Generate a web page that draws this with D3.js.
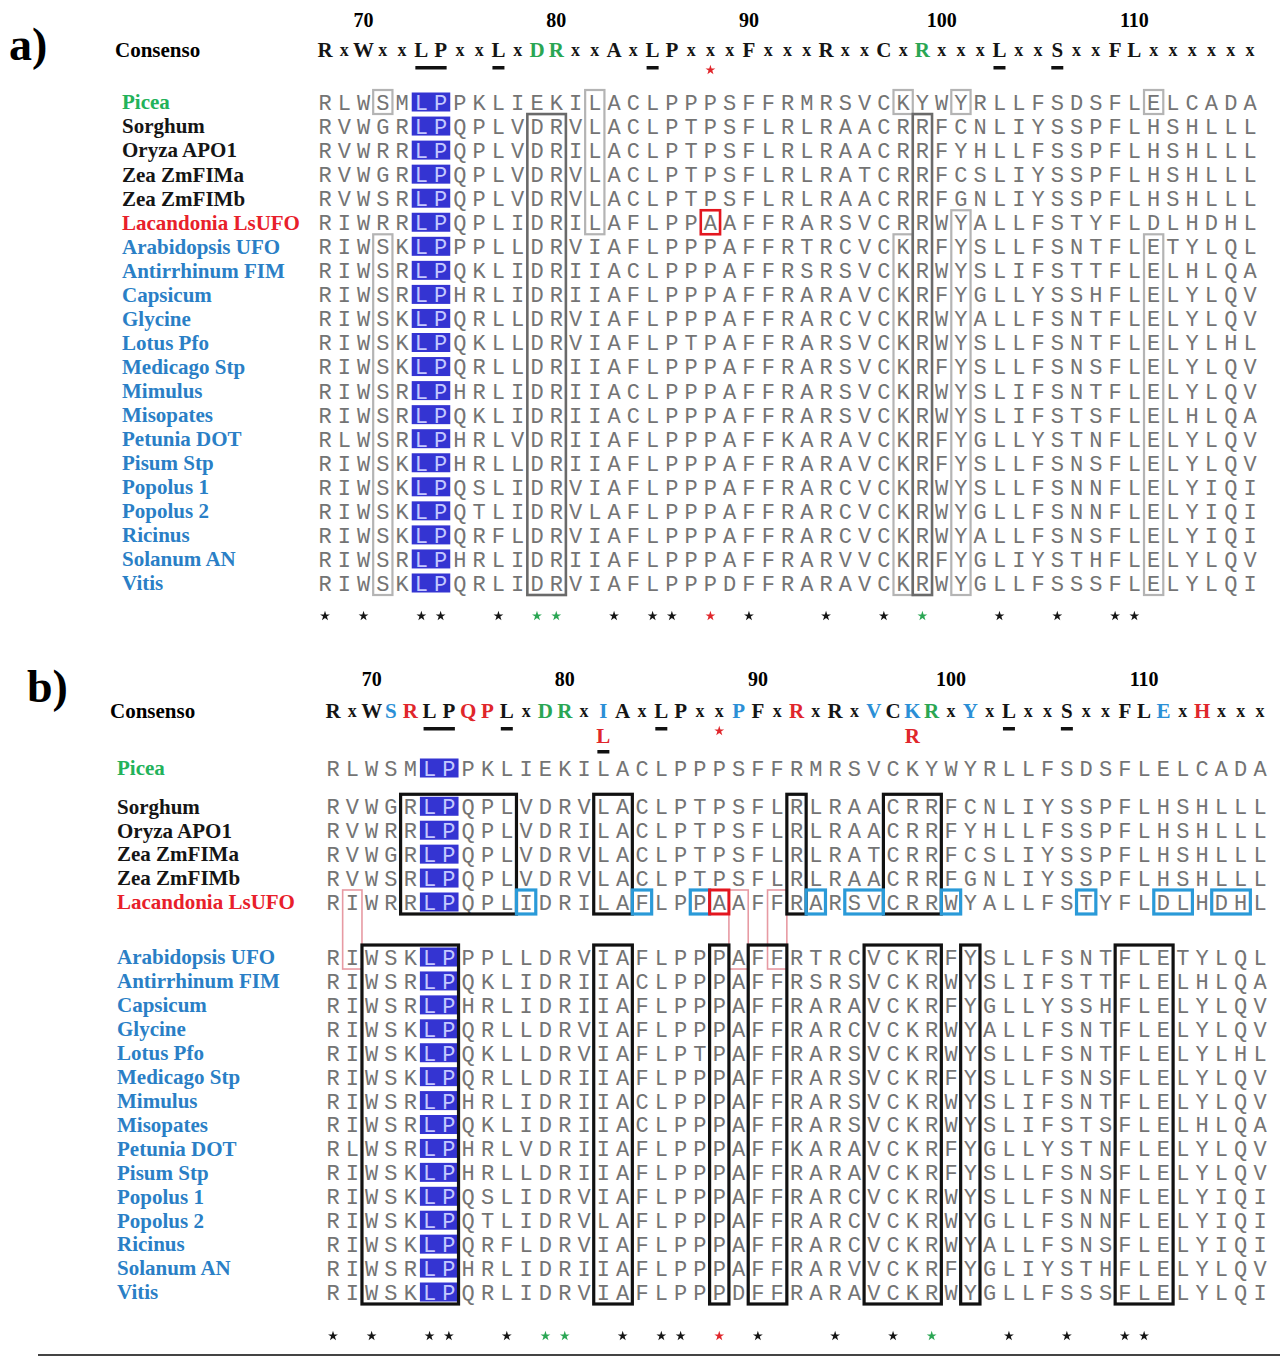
<!DOCTYPE html>
<html>
<head>
<meta charset="utf-8">
<script src="https://cdn.jsdelivr.net/npm/d3@7"></script>
<style>
  body { margin: 0; background: #fff; }
  text { font-family: "Liberation Serif", "DejaVu Serif", serif; }
  .seq { font-family: "Liberation Mono", "DejaVu Sans Mono", monospace; }
</style>
</head>
<body>
<div id="chart-area"></div>
<script>
// residue numbering: first column of the alignment is position 68
let firstPosition = 68;
let rulerTicks = [70, 80, 90, 100, 110];

let speciesNames = ["Picea", "Sorghum", "Oryza APO1", "Zea ZmFIMa", "Zea ZmFIMb", "Lacandonia LsUFO",
    "Arabidopsis UFO", "Antirrhinum FIM", "Capsicum", "Glycine", "Lotus Pfo", "Medicago Stp",
    "Mimulus", "Misopates", "Petunia DOT", "Pisum Stp", "Popolus 1", "Popolus 2", "Ricinus",
    "Solanum AN", "Vitis"];
let speciesKind = ["gymno", "monocot", "monocot", "monocot", "monocot", "lacandonia",
    "eudicot", "eudicot", "eudicot", "eudicot", "eudicot", "eudicot", "eudicot", "eudicot",
    "eudicot", "eudicot", "eudicot", "eudicot", "eudicot", "eudicot", "eudicot"];
// group of each species in panel b (Picea / monocots+Lacandonia / eudicots)
let speciesGroupB = [0, 1, 1, 1, 1, 1, 2, 2, 2, 2, 2, 2, 2, 2, 2, 2, 2, 2, 2, 2, 2];

let sequences = [
    "RLWSMLPPKLIEKILACLPPPSFFRMRSVCKYWYRLLFSDSFLELCADA",
    "RVWGRLPQPLVDRVLACLPTPSFLRLRAACRRFCNLIYSSPFLHSHLLL",
    "RVWRRLPQPLVDRILACLPTPSFLRLRAACRRFYHLLFSSPFLHSHLLL",
    "RVWGRLPQPLVDRVLACLPTPSFLRLRATCRRFCSLIYSSPFLHSHLLL",
    "RVWSRLPQPLVDRVLACLPTPSFLRLRAACRRFGNLIYSSPFLHSHLLL",
    "RIWRRLPQPLIDRILAFLPPAAFFRARSVCRRWYALLFSTYFLDLHDHL",
    "RIWSKLPPPLLDRVIAFLPPPAFFRTRCVCKRFYSLLFSNTFLETYLQL",
    "RIWSRLPQKLIDRIIACLPPPAFFRSRSVCKRWYSLIFSTTFLELHLQA",
    "RIWSRLPHRLIDRIIAFLPPPAFFRARAVCKRFYGLLYSSHFLELYLQV",
    "RIWSKLPQRLLDRVIAFLPPPAFFRARCVCKRWYALLFSNTFLELYLQV",
    "RIWSKLPQKLLDRVIAFLPTPAFFRARSVCKRWYSLLFSNTFLELYLHL",
    "RIWSKLPQRLLDRIIAFLPPPAFFRARSVCKRFYSLLFSNSFLELYLQV",
    "RIWSRLPHRLIDRIIACLPPPAFFRARSVCKRWYSLIFSNTFLELYLQV",
    "RIWSRLPQKLIDRIIACLPPPAFFRARSVCKRWYSLIFSTSFLELHLQA",
    "RLWSRLPHRLVDRIIAFLPPPAFFKARAVCKRFYGLLYSTNFLELYLQV",
    "RIWSKLPHRLLDRIIAFLPPPAFFRARAVCKRFYSLLFSNSFLELYLQV",
    "RIWSKLPQSLIDRVIAFLPPPAFFRARCVCKRWYSLLFSNNFLELYIQI",
    "RIWSKLPQTLIDRVLAFLPPPAFFRARCVCKRWYGLLFSNNFLELYIQI",
    "RIWSKLPQRFLDRVIAFLPPPAFFRARCVCKRWYALLFSNSFLELYIQI",
    "RIWSRLPHRLIDRIIAFLPPPAFFRARVVCKRFYGLIYSTHFLELYLQV",
    "RIWSKLPQRLIDRVIAFLPPPDFFRARAVCKRWYGLLFSSSFLELYLQI"
];

// consensus lines; hue letters: k black, g green, r red, b blue
let consensusA = "RxWxxLPxxLxDRxxAxLPxxxFxxxRxxCxRxxxLxxSxxFLxxxxxx";
let consensusAHue = "kkkkkkkkkkkggkkkkkkkkkkkkkkkkkkgkkkkkkkkkkkkkkkkk";
let consensusB = "RxWSRLPQPLxDRxIAxLPxxPFxRxRxVCKRxYxLxxSxxFLExHxxx";
let consensusBHue = "kkkbrkkrrkkggkbkkkkkkbkkrkkkbkbgkbkkkkkkkkkbkrkkk";
let underlinedCols = [[5, 6], [9, 9], [17, 17], [35, 35], [38, 38]];
let redStarCol = 20;
// second-line substitutions in panel b consensus: [column, residue]
let substitutionsB = [[14, "L"], [30, "R"]];

// conservation marks under the alignment
let conservedCols = [0, 2, 5, 6, 9, 11, 12, 15, 17, 18, 20, 22, 26, 29, 31, 35, 38, 41, 42];
let conservedHue = "kkkkkggkkkrkkkgkkkk";
let highlightCols = [5, 6];

// boxes: [firstCol, lastCol, firstSpecies, lastSpecies]
let lightBoxesA = [[3, 3, 0, 0], [14, 14, 0, 5], [30, 30, 0, 0], [33, 33, 0, 0], [43, 43, 0, 0],
    [3, 3, 6, 20], [30, 30, 6, 20], [33, 33, 5, 20], [43, 43, 6, 20]];
let darkBoxesA = [[11, 12, 1, 20], [31, 31, 1, 20]];
let redBoxesA = [[20, 20, 5, 5]];

let blackBoxesB = [[4, 9, 1, 5], [14, 15, 1, 5], [24, 24, 1, 5], [29, 31, 1, 5],
    [2, 6, 6, 20], [14, 15, 6, 20], [20, 20, 6, 20], [22, 23, 6, 20], [28, 31, 6, 20],
    [33, 33, 6, 20], [41, 43, 6, 20]];
let blueBoxesB = [[10, 10, 5, 5], [16, 16, 5, 5], [19, 19, 5, 5], [25, 25, 5, 5], [27, 28, 5, 5],
    [32, 32, 5, 5], [39, 39, 5, 5], [43, 44, 5, 5], [46, 47, 5, 5]];
let redBoxesB = [[20, 20, 5, 5]];
let pinkBoxesB = [[1, 1, 5, 6], [21, 21, 5, 6], [23, 23, 5, 6]];

let nameColor = { gymno: "#22b25a", monocot: "#151515", lacandonia: "#e8202a", eudicot: "#2a7fc6" };
let hueColor = { k: "#151515", g: "#2aa653", r: "#e0262b", b: "#2b8fd6" };

let width = 1280;
let height = 1358;
let nCols = sequences[0].length;

let svg = d3.select("#chart-area")
    .append("svg")
    .attr("width", width)
    .attr("height", height);

let star = d3.symbol().type(d3.symbolStar).size(30);

function drawPanel(p) {
    let g = svg.append("g").attr("class", "panel-" + p.id);
    let cw = p.x(1) - p.x(0);
    let rh = 24;

    // panel letter + consensus label
    g.append("text")
        .attr("x", p.letterX).attr("y", p.letterY)
        .attr("font-size", 46).attr("font-weight", "bold")
        .text(p.id + ")");
    g.append("text")
        .attr("x", p.consLabelX).attr("y", p.consY)
        .attr("dy", "0.35em")
        .attr("font-size", 21).attr("font-weight", "bold")
        .text("Consenso");

    // ruler
    g.selectAll(".tick").data(rulerTicks).enter()
        .append("text")
        .attr("x", d => p.x(d - firstPosition))
        .attr("y", p.rulerY)
        .attr("dy", "0.35em")
        .attr("text-anchor", "middle")
        .attr("font-size", 20).attr("font-weight", "bold")
        .text(d => d);

    // consensus letters
    g.selectAll(".cons").data(p.consensus.split("")).enter()
        .append("text")
        .attr("x", (d, i) => p.x(i))
        .attr("y", p.consY)
        .attr("dy", "0.35em")
        .attr("text-anchor", "middle")
        .attr("font-size", d => d === "x" ? 18 : 21)
        .attr("font-weight", "bold")
        .attr("fill", (d, i) => hueColor[p.consensusHue[i]])
        .text(d => d);

    g.selectAll(".uline").data(underlinedCols).enter()
        .append("rect")
        .attr("x", d => p.x(d[0]) - 6)
        .attr("width", d => p.x(d[1]) - p.x(d[0]) + 12)
        .attr("y", p.consY + 16)
        .attr("height", 3.5)
        .attr("fill", "#111");

    g.append("path")
        .attr("transform", "translate(" + p.x(redStarCol) + "," + (p.consY + 20) + ")")
        .attr("d", star)
        .attr("fill", hueColor.r);

    if (p.substitutions) {
        g.selectAll(".subst").data(p.substitutions).enter()
            .append("text")
            .attr("x", d => p.x(d[0]))
            .attr("y", p.consY + 25)
            .attr("dy", "0.35em")
            .attr("text-anchor", "middle")
            .attr("font-size", 21).attr("font-weight", "bold")
            .attr("fill", hueColor.r)
            .text(d => d[1]);
        g.append("rect")
            .attr("x", p.x(p.substitutions[0][0]) - 6)
            .attr("width", 12)
            .attr("y", p.consY + 39)
            .attr("height", 3.5)
            .attr("fill", "#111");
    }

    // species names
    g.selectAll(".name").data(speciesNames).enter()
        .append("text")
        .attr("x", p.nameX)
        .attr("y", (d, i) => p.y(i))
        .attr("dy", "0.35em")
        .attr("font-size", 21).attr("font-weight", "bold")
        .attr("fill", (d, i) => nameColor[speciesKind[i]])
        .text(d => d);

    // highlighted LP cells
    g.selectAll(".hl").data(speciesNames).enter()
        .append("rect")
        .attr("x", p.x(highlightCols[0]) - cw / 2)
        .attr("width", p.x(highlightCols[1]) - p.x(highlightCols[0]) + cw)
        .attr("y", (d, i) => p.y(i) - 9.5)
        .attr("height", 19)
        .attr("fill", "#3434d2");

    // residues
    let rows = g.selectAll(".row").data(sequences).enter()
        .append("g")
        .attr("transform", (d, i) => "translate(0," + p.y(i) + ")");
    rows.selectAll("text").data(d => d.split("")).enter()
        .append("text")
        .attr("class", "seq")
        .attr("x", (d, i) => p.x(i))
        .attr("dy", "0.36em")
        .attr("text-anchor", "middle")
        .attr("font-size", 22)
        .attr("fill", (d, i) => highlightCols.includes(i) ? "#c4c8ff" : "#747474")
        .text(d => d);

    // boxes
    p.boxes.forEach(set => {
        g.selectAll(null).data(set.data).enter()
            .append("rect")
            .attr("x", d => p.x(d[0]) - cw / 2)
            .attr("width", d => p.x(d[1]) - p.x(d[0]) + cw)
            .attr("y", d => p.y(d[2]) - rh / 2)
            .attr("height", d => p.y(d[3]) - p.y(d[2]) + rh)
            .attr("fill", "none")
            .attr("stroke", set.color)
            .attr("stroke-width", set.width);
    });

    // conservation marks
    g.selectAll(".mark").data(conservedCols).enter()
        .append("path")
        .attr("transform", d => "translate(" + p.x(d) + "," + p.markY + ")")
        .attr("d", star)
        .attr("fill", (d, i) => hueColor[conservedHue[i]]);
}

// panel a
let xA = d3.scaleLinear().domain([0, nCols - 1]).range([325, 1250]);
let yA = d3.scaleLinear().domain([0, speciesNames.length - 1]).range([102, 583]);

drawPanel({
    id: "a", x: xA, y: i => yA(i),
    letterX: 9, letterY: 60, consLabelX: 115, consY: 50, rulerY: 20, nameX: 122, markY: 616,
    consensus: consensusA, consensusHue: consensusAHue,
    boxes: [
        { data: lightBoxesA, color: "#b4b4b4", width: 2.2 },
        { data: darkBoxesA, color: "#6a6a6a", width: 2.6 },
        { data: redBoxesA, color: "#e3161f", width: 2.6 }
    ]
});

// panel b: rows are split into three groups with extra space between them
let groupGapB = [0, 0.6, 1.9];
let xB = d3.scaleLinear().domain([0, nCols - 1]).range([333, 1260]);
let yB = d3.scaleLinear().domain([0, speciesNames.length - 1 + groupGapB[2]]).range([768, 1292]);

drawPanel({
    id: "b", x: xB, y: i => yB(i + groupGapB[speciesGroupB[i]]),
    letterX: 27, letterY: 702, consLabelX: 110, consY: 711, rulerY: 679, nameX: 117, markY: 1336,
    consensus: consensusB, consensusHue: consensusBHue, substitutions: substitutionsB,
    boxes: [
        { data: pinkBoxesB, color: "#e79aa3", width: 1.6 },
        { data: blackBoxesB, color: "#111", width: 3.2 },
        { data: blueBoxesB, color: "#2a9ad8", width: 3.2 },
        { data: redBoxesB, color: "#e3161f", width: 3 }
    ]
});

// frame line at the bottom of the figure
svg.append("line")
    .attr("x1", 38).attr("x2", width)
    .attr("y1", 1355).attr("y2", 1355)
    .attr("stroke", "#444")
    .attr("stroke-width", 2);
</script>
</body>
</html>
